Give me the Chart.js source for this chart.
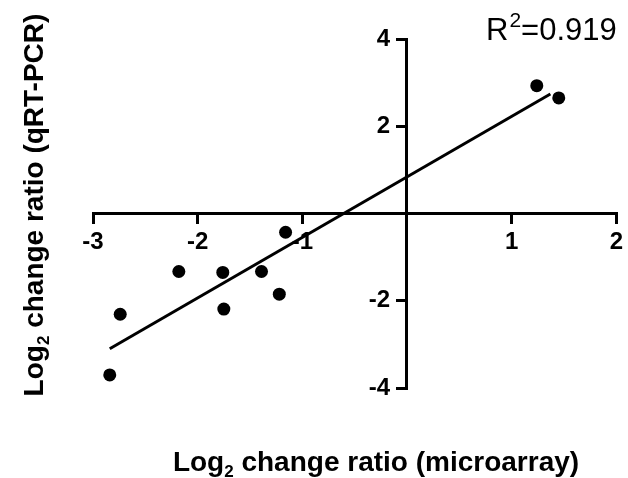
<!DOCTYPE html>
<html><head><meta charset="utf-8">
<script src="https://cdn.jsdelivr.net/npm/chart.js@4/dist/chart.umd.min.js"></script>
<style>html,body{margin:0;padding:0;background:#fff;}canvas{display:block;}</style>
</head><body>
<canvas id="c" width="628" height="478"></canvas>
<script>
const microarray = [-1.16, -2.18, -1.76, -1.39, -1.22, -1.75, -2.74, -2.84, 1.24, 1.45];
const qrtpcr     = [-0.43, -1.33, -1.35, -1.33, -1.85, -2.19, -2.31, -3.70, 2.93, 2.65];
const fitX = [-2.84, 1.37];
const fitY = [-3.10, 2.74];
const xTickLabels = [-3, -2, -1, 1, 2];
const yTickLabels = [-4, -2, 2, 4];
const xTitleParts = ['Log', '2', ' change ratio (microarray)'];
const yTitleParts = ['Log', '2', ' change ratio (qRT-PCR)'];
const rSquared = '0.919';

const FONT = '"Liberation Sans", Arial, Helvetica, sans-serif';

function drawSubTitle(ctx, parts, size) {
  ctx.font = 'bold ' + size + 'px ' + FONT;
  const w0 = ctx.measureText(parts[0]).width;
  const w2 = ctx.measureText(parts[2]).width;
  ctx.font = 'bold ' + Math.round(size * 0.62) + 'px ' + FONT;
  const w1 = ctx.measureText(parts[1]).width;
  const total = w0 + w1 + w2;
  let x = -total / 2;
  ctx.textAlign = 'left';
  ctx.textBaseline = 'alphabetic';
  ctx.font = 'bold ' + size + 'px ' + FONT;
  ctx.fillText(parts[0], x, 0); x += w0;
  ctx.font = 'bold ' + Math.round(size * 0.62) + 'px ' + FONT;
  ctx.fillText(parts[1], x, size * 0.2); x += w1;
  ctx.font = 'bold ' + size + 'px ' + FONT;
  ctx.fillText(parts[2], x, 0);
}

const textPlugin = {
  id: 'texts',
  afterDraw(chart) {
    const ctx = chart.ctx;
    ctx.save();
    ctx.fillStyle = '#000';
    ctx.save();
    ctx.translate(376, 471);
    drawSubTitle(ctx, xTitleParts, 28);
    ctx.restore();
    ctx.save();
    ctx.translate(43, 205);
    ctx.rotate(-Math.PI / 2);
    drawSubTitle(ctx, yTitleParts, 28);
    ctx.restore();
    ctx.textBaseline = 'alphabetic';
    ctx.textAlign = 'left';
    let x = 486;
    ctx.font = '31px ' + FONT;
    ctx.fillText('R', x, 40); x += ctx.measureText('R').width + 1;
    ctx.font = '21px ' + FONT;
    ctx.fillText('2', x, 27); x += ctx.measureText('2').width;
    ctx.font = '31px ' + FONT;
    ctx.fillText('=' + rSquared, x, 40);
    ctx.restore();
  }
};

const points = microarray.map((v, i) => ({x: v, y: qrtpcr[i]}));
const fitLine = fitX.map((v, i) => ({x: v, y: fitY[i]}));

new Chart(document.getElementById('c'), {
  type: 'scatter',
  data: {
    datasets: [
      {
        label: 'data',
        data: points,
        backgroundColor: '#000',
        borderColor: '#000',
        pointRadius: 6.5,
        pointHoverRadius: 6.5,
        borderWidth: 0
      },
      {
        label: 'fit',
        type: 'line',
        data: fitLine,
        borderColor: '#000',
        borderWidth: 3,
        pointRadius: 0,
        fill: false,
        tension: 0
      }
    ]
  },
  options: {
    responsive: false,
    animation: false,
    events: [],
    layout: { padding: { left: 93, right: 11, top: 39, bottom: 90 } },
    plugins: { legend: { display: false }, tooltip: { enabled: false } },
    scales: {
      x: {
        type: 'linear',
        min: -3, max: 2,
        position: { y: 0 },
        border: { display: true, color: '#000', width: 3 },
        grid: { drawOnChartArea: false, drawTicks: true, tickLength: 9, color: '#000', lineWidth: 3 },
        ticks: {
          stepSize: 1,
          padding: 5,
          color: '#000',
          font: { family: FONT, size: 24, weight: 'bold' },
          callback: (v) => xTickLabels.includes(v) ? String(v) : ''
        }
      },
      y: {
        type: 'linear',
        min: -4, max: 4,
        position: { x: 0 },
        border: { display: true, color: '#000', width: 3 },
        grid: { drawOnChartArea: false, drawTicks: true, tickLength: 9, color: '#000', lineWidth: 3 },
        ticks: {
          stepSize: 2,
          color: '#000',
          font: { family: FONT, size: 24, weight: 'bold' },
          callback: (v) => yTickLabels.includes(v) ? String(v) + '\u2002\u2009' : ''
        }
      }
    }
  },
  plugins: [textPlugin]
});
</script>
</body></html>
